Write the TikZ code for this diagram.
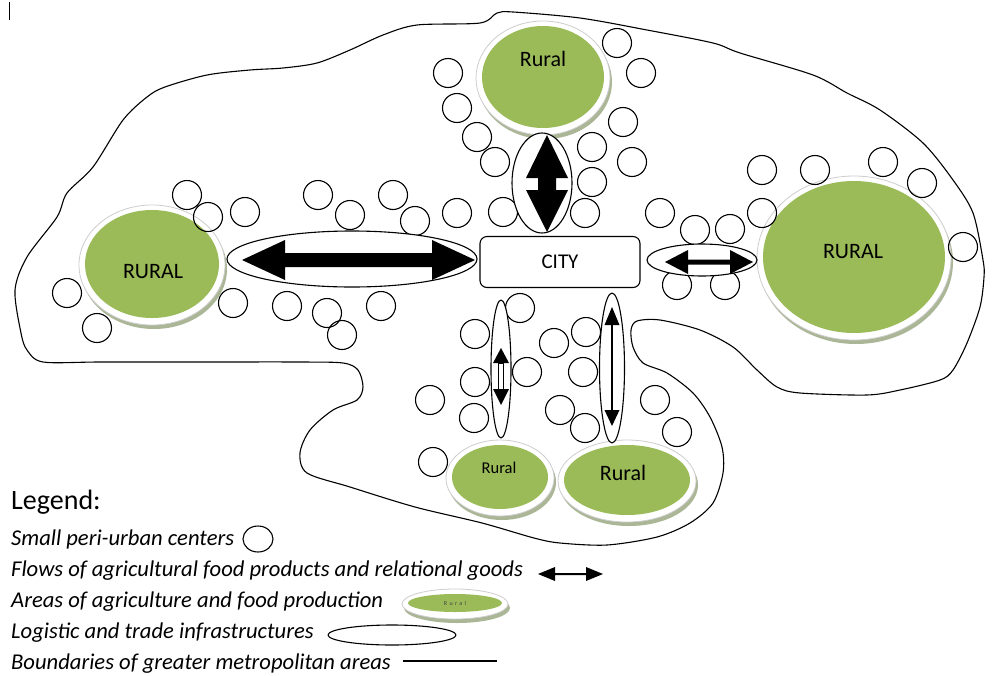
\documentclass[tikz,border=0pt]{standalone}
\usepackage{fontspec}
\setmainfont{Carlito}
\usetikzlibrary{shapes.geometric}
\definecolor{ruralgreen}{RGB}{155,187,89}
\definecolor{ringc}{RGB}{205,205,205}
\definecolor{shadowc}{RGB}{170,182,150}
\tikzset{
  bnd/.style={line width=1.1pt, draw=black},
  pc/.style={circle, draw=black, line width=1.1pt, minimum size=29pt, inner sep=0pt},
  logi/.style={ellipse, draw=black, fill=white, line width=1.1pt, inner sep=0pt},
  blockarrow/.style={fill=black},
  legtext/.style={anchor=base west, font=\fontsize{22.6}{22.6}\selectfont\itshape, inner sep=0pt},
}
% name, cx, cy, rx, ry
\newcommand\myrural[5]{%
  \fill[shadowc] (#2+2,#3+5) ellipse ({#4+6} and {#5+6});
  \filldraw[fill=white, draw=ringc, line width=0.8pt] (#2,#3+1) ellipse ({#4+6} and {#5+6});
  \node[ellipse, fill=ruralgreen, minimum width={2*#4*1pt}, minimum height={2*#5*1pt}, inner sep=0pt] (#1) at (#2,#3) {};
}
\begin{document}
\begin{tikzpicture}[x=1pt,y=-1pt, line join=round]
\useasboundingbox (0,0) rectangle (993,675);
\fill[white] (0,0) rectangle (993,675);

% stray mark
\coordinate (m1) at (9,2); \coordinate (m2) at (9,20);
\draw[line width=0.8pt] (m1) -- (m2);

% boundary of the metropolitan area
\draw[bnd] plot[smooth cycle, tension=0.5] coordinates {
(43,362) (27,350) (21,333) (15,290) (27,257) (57,217) (67,193) (93,167) (123,120) (147,97) (165,87)
(207,75) (250,70) (283,68) (317,63) (350,50) (383,35) (417,25) (480,23) (497,13) (513,12) (580,18)
(647,30) (713,43) (740,53) (813,75) (847,93) (880,110) (923,143) (953,180) (973,213) (983,260)
(984,277) (980,307) (967,343) (953,370) (940,380) (900,390) (867,395) (800,393) (777,387) (757,370)
(733,347) (700,330) (660,320) (637,321) (631,330) (633,347) (643,363) (667,373) (693,393) (710,417)
(722,447) (723,473) (713,503) (690,523) (657,537) (607,545) (560,543) (534,538) (482,523) (415,507)
(350,487) (307,473) (300,453) (310,430) (333,410) (357,400) (363,387) (358,370) (343,363) (300,362)
(200,362) (100,362)};

% rural areas
\myrural{rtop}{543}{77}{61}{51}
\myrural{rleft}{152}{264}{67}{54}
\myrural{rright}{854}{257}{91}{76}
\myrural{rbotl}{500}{477}{48}{32}
\myrural{rbotr}{627}{480}{63}{35}
\node[font=\fontsize{22}{22}\selectfont] (ttop) at (543,59) {Rural};
\node[font=\fontsize{22}{22}\selectfont] (tleft) at (153,272) {RURAL};
\node[font=\fontsize{22}{22}\selectfont] (tright) at (853,252) {RURAL};
\node[font=\fontsize{16.5}{16.5}\selectfont] (tbotl) at (499,468) {Rural};
\node[font=\fontsize{22}{22}\selectfont] (tbotr) at (623,473) {Rural};

% small peri-urban centres
\foreach \n/\x/\y in {
 1/448/73, 2/457/108, 3/477/137, 4/495/162,
 5/617/43, 6/641/73, 7/623/122, 8/592/147, 9/632/162, 10/592/182,
 11/187/195, 12/208/217, 13/245/212, 14/318/195, 15/350/215, 16/393/195, 17/415/221,
 18/457/213, 19/503/212, 20/585/213, 21/660/213,
 22/762/170, 23/815/170, 24/883/162, 25/922/183, 26/762/213, 27/695/230, 28/730/229,
 29/963/247, 30/677/285, 31/725/285,
 32/67/293, 33/97/328, 34/233/303, 35/287/306, 36/327/313, 37/342/335, 38/381/306, 39/475/334,
 40/520/308, 41/554/343, 42/586/332, 43/527/372, 44/583/372, 45/475/382, 46/430/400,
 47/474/418, 48/560/410, 49/585/428, 50/655/400, 51/677/432, 52/433/462}
 {\node[pc] (c\n) at (\x,\y) {};}

% logistic and trade infrastructures
\node[logi, minimum width=250pt, minimum height=56pt] (lleft) at (352,259) {};
\node[logi, minimum width=60pt, minimum height=100pt] (ltop) at (542,183) {};
\node[logi, minimum width=110pt, minimum height=32pt] (lright) at (702,260) {};
\node[logi, minimum width=20pt, minimum height=138pt] (lbotl) at (501,369) {};
\node[logi, minimum width=25pt, minimum height=150pt] (lbotr) at (612,368) {};

% city
\node[draw=black, fill=white, line width=1.1pt, rounded corners=7pt, minimum width=160pt, minimum height=51pt,
      inner sep=0pt, font=\fontsize{21}{21}\selectfont] (city) at (560,262) {CITY};

% flows (block arrows)
\fill[blockarrow] (242,260) -- (285,240) -- (285,253) -- (432,253) -- (432,240) -- (475,260)
   -- (432,280) -- (432,267) -- (285,267) -- (285,280) -- cycle;
\fill[blockarrow] (547,135) -- (568,178) -- (556,178) -- (556,190) -- (568,190) -- (547,232)
   -- (526,190) -- (538,190) -- (538,178) -- (526,178) -- cycle;
\fill[blockarrow] (665,262) -- (688,250) -- (688,259.5) -- (730,259.5) -- (730,250) -- (753,262)
   -- (730,274) -- (730,264.5) -- (688,264.5) -- (688,274) -- cycle;
\fill[blockarrow] (501,348) -- (509,363) -- (493,363) -- cycle;
\fill[blockarrow] (501,405) -- (509,389) -- (493,389) -- cycle;
\draw[line width=0.9pt, fill=white] (498.5,363) rectangle (503.5,389);
\fill[blockarrow] (612,307) -- (619.5,325) -- (604.5,325) -- cycle;
\fill[blockarrow] (612,426) -- (619.5,410) -- (604.5,410) -- cycle;
\draw[line width=1.1pt] (612,325) -- (612,410);

% legend
\node[anchor=base west, inner sep=0pt, font=\fontsize{28}{28}\selectfont] (lgtitle) at (11,509) {Legend:};
\node[legtext] (lg1) at (11,545) {Small peri-urban centers};
\node[legtext] (lg2) at (11,576) {Flows of agricultural food products and relational goods};
\node[legtext] (lg3) at (11,607) {Areas of agriculture and food production};
\node[legtext] (lg4) at (11,638) {Logistic and trade infrastructures};
\node[legtext] (lg5) at (11,669) {Boundaries of greater metropolitan areas};

\node[ellipse, draw=black, line width=1.1pt, minimum width=30pt, minimum height=26pt, inner sep=0pt] (lgc) at (258,539) {};
\fill[blockarrow] (538,574) -- (555,567) -- (555,573) -- (586,573) -- (586,567) -- (603,574)
   -- (586,581) -- (586,575) -- (555,575) -- (555,581) -- cycle;
\myrural{lgr}{455}{603}{47}{9}
\node[font=\fontsize{6}{6}\selectfont\addfontfeature{LetterSpace=40}, text=black!75] (lgrt) at (455,603) {Rural};
\node[ellipse, draw=black, line width=1.1pt, minimum width=128pt, minimum height=20pt, inner sep=0pt] (lgl) at (392,635) {};
\coordinate (lb1) at (403,661); \coordinate (lb2) at (497,661);
\draw[line width=1.1pt] (lb1) -- (lb2);
\end{tikzpicture}
\end{document}
